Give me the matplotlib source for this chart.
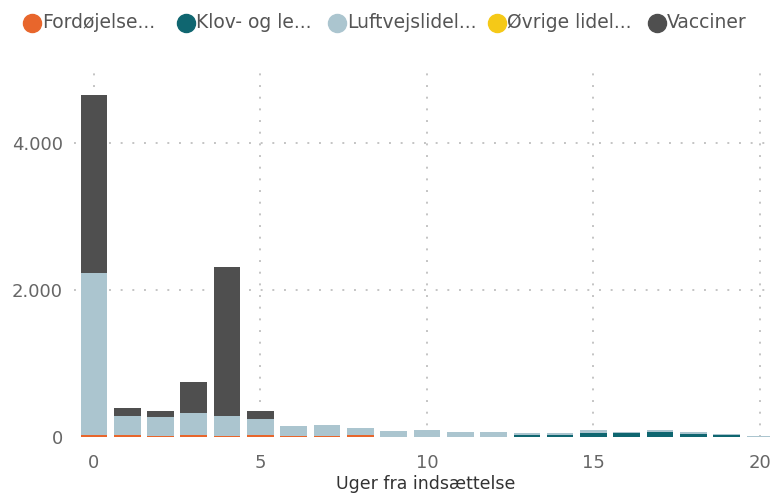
import matplotlib.pyplot as plt
from matplotlib.lines import Line2D
from matplotlib.ticker import FuncFormatter

plt.rcParams['font.family'] = ['DejaVu Sans']

# uger fra indsættelse
weeks = list(range(21))

# behandlinger pr. kategori
fordojelse = [35, 25, 20, 25, 20, 25, 15, 20, 25, 5, 5, 5, 5, 0, 0, 0, 0, 0, 0, 0, 0]
klov = [0, 0, 0, 0, 0, 0, 0, 0, 0, 0, 0, 0, 0, 35, 35, 55, 55, 75, 50, 30, 0]
luftvej = [2195, 260, 250, 300, 265, 220, 135, 145, 95, 85, 90, 65, 65, 25, 25, 45, 20, 20, 20, 10, 12]
ovrige = [0] * 21
vacciner = [2420, 110, 80, 420, 2030, 110, 0, 0, 0, 0, 0, 0, 0, 0, 0, 0, 0, 0, 0, 0, 0]

series = [
    ("Fordøjelse...", fordojelse, "#E8662C"),
    ("Klov- og le...", klov, "#0F6670"),
    ("Luftvejslidel...", luftvej, "#ABC5CF"),
    ("Øvrige lidel...", ovrige, "#F5C917"),
    ("Vacciner", vacciner, "#4F4F4F"),
]

W, H = 770, 494
fig = plt.figure(figsize=(W / 100, H / 100), dpi=100)
ax = fig.add_axes([0.096, 0.115, 0.904, 0.744])

bottom = [0] * len(weeks)
for name, vals, col in series:
    ax.bar(weeks, vals, width=0.8, bottom=bottom, color=col, zorder=3)
    bottom = [b + v for b, v in zip(bottom, vals)]

ax.set_xlim(-0.6, 20.3)
ax.set_ylim(0, 5000)
ax.set_xticks([0, 5, 10, 15, 20])
ax.set_yticks([0, 2000, 4000])
ax.yaxis.set_major_formatter(FuncFormatter(lambda v, p: f"{int(v):,}".replace(",", ".")))

for s in ax.spines.values():
    s.set_visible(False)
ax.tick_params(length=0, labelsize=13, colors="#666666")
ax.tick_params(axis="x", pad=12)
ax.tick_params(axis="y", pad=8)
ax.grid(True, color="#C4C4C4", linestyle=(0, (1, 5)), linewidth=1.4, zorder=0)
# ingen gitterlinje ved 0
ax.get_ygridlines()[0].set_visible(False)

# aksetitel under x-aksen
fig.text(426 / W, 1 - 489 / H, "Uger fra indsættelse", fontsize=12.5, color="#333333",
         ha="center", va="baseline")

# legende øverst, placeret manuelt
leg_x = [32, 186, 337, 497, 657]
leg_y = 1 - 23 / H
for (name, _, col), x in zip(series, leg_x):
    fig.add_artist(Line2D([x / W], [leg_y], marker="o", markersize=13, color=col,
                          linestyle="", transform=fig.transFigure))
    fig.text((x + 10) / W, leg_y, name, fontsize=13.5, color="#555555",
             va="center", ha="left")

fig.savefig("out.png", dpi=100)
